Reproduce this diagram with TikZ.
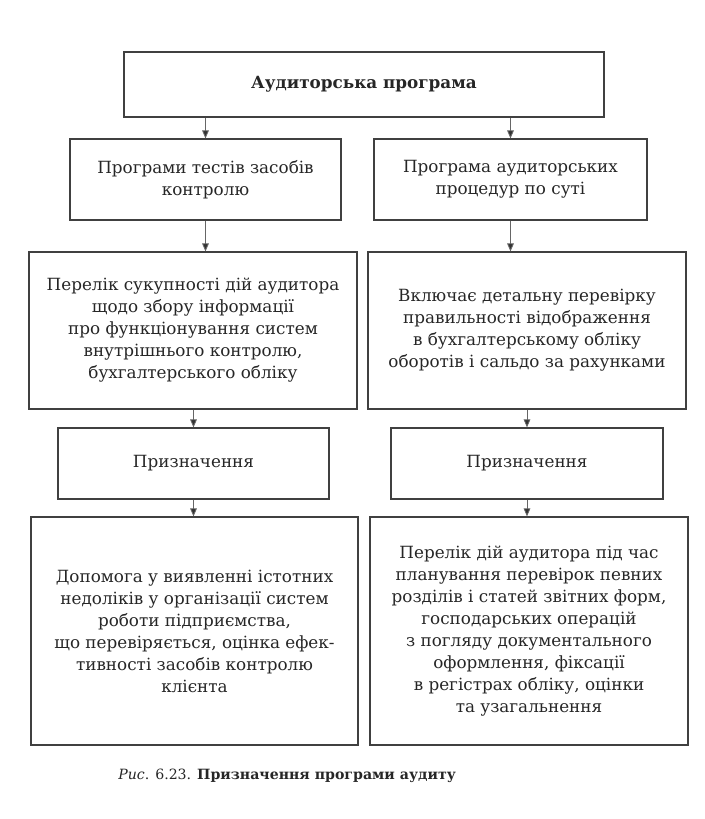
\documentclass[tikz,border=0pt]{standalone}
\usepackage{fontspec}
\setmainfont{DejaVu Serif}
\usetikzlibrary{arrows.meta}

\begin{document}
\begin{tikzpicture}[
    x=0.75pt, y=-0.75pt,
    every node/.style={font=\fontsize{12.6}{16.5}\selectfont, text=black!85},
    boxNode/.style={rectangle, draw=black!75, line width=0.9pt, align=center, inner sep=0pt},
    arrowEdge/.style={draw=black!60, line width=0.6pt, -{Triangle[width=5pt,length=6pt,fill=black!80]}}
]
    \useasboundingbox (0,0) rectangle (705,819);

    % top
    \node[boxNode, minimum width=360pt, minimum height=48.75pt] (prog) at (364,84.5) {\textbf{Аудиторська програма}};

    % left column
    \node[boxNode, minimum width=203.25pt, minimum height=60.75pt] (tests) at (205.5,179.5) {Програми тестів засобів\\контролю};
    \node[boxNode, minimum width=246pt, minimum height=117.75pt] (listL) at (193,330.5) {Перелік сукупності дій аудитора\\щодо збору інформації\\про функціонування систем\\внутрішнього контролю,\\бухгалтерського обліку};
    \node[boxNode, minimum width=203.25pt, minimum height=53.25pt] (purpL) at (193.5,463.5) {Призначення};
    \node[boxNode, minimum width=245.25pt, minimum height=171pt] (helpL) at (194.5,631) {Допомога у виявленні істотних\\недоліків у організації систем\\роботи підприємства,\\що перевіряється, оцінка ефек-\\тивності засобів контролю\\клієнта};

    % right column
    \node[boxNode, minimum width=204.75pt, minimum height=60.75pt] (subst) at (510.5,179.5) {Програма аудиторських\\процедур по суті};
    \node[boxNode, minimum width=238.5pt, minimum height=117.75pt] (listR) at (527,330.5) {Включає детальну перевірку\\правильності відображення\\в бухгалтерському обліку\\оборотів і сальдо за рахунками};
    \node[boxNode, minimum width=204pt, minimum height=53.25pt] (purpR) at (527,463.5) {Призначення};
    \node[boxNode, minimum width=238.5pt, minimum height=171pt] (helpR) at (529,631) {Перелік дій аудитора під час\\планування перевірок певних\\розділів і статей звітних форм,\\господарських операцій\\з погляду документального\\оформлення, фіксації\\в регістрах обліку, оцінки\\та узагальнення};

    % arrows
    \draw[arrowEdge] (prog.south -| tests.north) -- (tests.north);
    \draw[arrowEdge] (prog.south -| subst.north) -- (subst.north);
    \draw[arrowEdge] (tests.south) -- (tests.south |- listL.north);
    \draw[arrowEdge] (subst.south) -- (subst.south |- listR.north);
    \draw[arrowEdge] (listL.south -| purpL.north) -- (purpL.north);
    \draw[arrowEdge] (listR.south -| purpR.north) -- (purpR.north);
    \draw[arrowEdge] (purpL.south) -- (purpL.south |- helpL.north);
    \draw[arrowEdge] (purpR.south) -- (purpR.south |- helpR.north);

    % caption
    \node[anchor=west, inner sep=0pt, font=\fontsize{10.6}{13}\selectfont] (caption) at (118,776) {\textit{Рис}. 6.23. \textbf{Призначення програми аудиту}};
\end{tikzpicture}
\end{document}
